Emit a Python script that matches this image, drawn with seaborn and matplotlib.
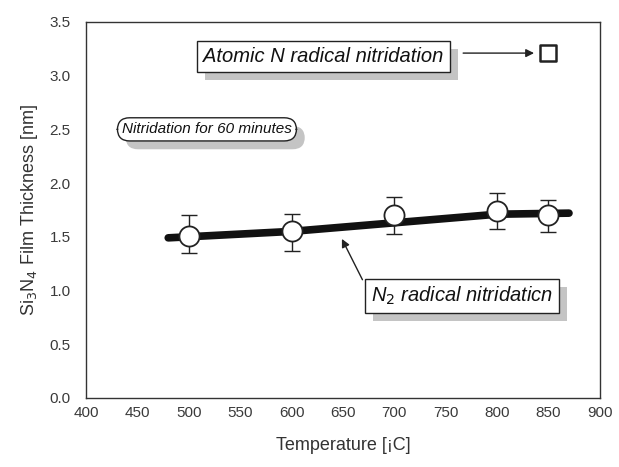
import matplotlib
matplotlib.use("Agg")
import matplotlib.pyplot as plt
import matplotlib.patheffects as pe
import seaborn as sns
import pandas as pd

# Measured Si3N4 thickness for N2 radical nitridation (60 min)
temperature = [500, 600, 700, 800, 850]
thickness = [1.51, 1.55, 1.70, 1.74, 1.70]
err_low = [1.35, 1.37, 1.53, 1.57, 1.54]
err_high = [1.70, 1.71, 1.87, 1.91, 1.84]

# Hand-drawn trend line through the N2 data
trend_temp = [480, 500, 600, 700, 800, 870]
trend_thick = [1.49, 1.50, 1.55, 1.63, 1.71, 1.72]

# Atomic N radical nitridation result
atomic_temp = [850]
atomic_thick = [3.21]

x_ticks = [400, 450, 500, 550, 600, 650, 700, 750, 800, 850, 900]
y_ticks = [0.0, 0.5, 1.0, 1.5, 2.0, 2.5, 3.0, 3.5]

sns.set_theme(style="white")
plt.rcParams["font.family"] = ["Liberation Sans", "DejaVu Sans"]

fig = plt.figure(figsize=(6.19, 4.67), dpi=100)
ax = fig.add_axes([0.139, 0.148, 0.830, 0.805])

df_trend = pd.DataFrame({"T": trend_temp, "t": trend_thick})
sns.lineplot(data=df_trend, x="T", y="t", ax=ax, color="#111111",
             linewidth=5.5, zorder=2, legend=False)

yerr = [[v - lo for v, lo in zip(thickness, err_low)],
        [hi - v for v, hi in zip(thickness, err_high)]]
ax.errorbar(temperature, thickness, yerr=yerr, fmt="none", ecolor="#222222",
            elinewidth=1.0, capsize=6, capthick=1.0, zorder=3)

df_pts = pd.DataFrame({"T": temperature, "t": thickness})
sns.scatterplot(data=df_pts, x="T", y="t", ax=ax, s=210, marker="o",
                facecolor="white", edgecolor="#222222", linewidth=1.3, zorder=4)

df_atomic = pd.DataFrame({"T": atomic_temp, "t": atomic_thick})
sns.scatterplot(data=df_atomic, x="T", y="t", ax=ax, s=120, marker="s",
                facecolor="white", edgecolor="#222222", linewidth=1.8, zorder=4)

ax.set_xlim(400, 900)
ax.set_ylim(0, 3.5)
ax.set_xticks(x_ticks)
ax.set_yticks(y_ticks)
ax.set_xticklabels([str(v) for v in x_ticks])
ax.set_yticklabels([f"{v:.1f}" for v in y_ticks])
ax.tick_params(axis="x", labelsize=11, colors="#3a3a3a", length=0, pad=6)
ax.tick_params(axis="y", labelsize=11, colors="#3a3a3a", length=0, pad=11)
ax.set_xlabel("Temperature [¡C]", fontsize=13, color="#333333", labelpad=12)
ax.set_ylabel("Si$_3$N$_4$ Film Thickness [nm]", fontsize=13, color="#333333", labelpad=7)
for sp in ax.spines.values():
    sp.set_color("#333333")
    sp.set_linewidth(1.0)


def boxed_label(text, xy, boxstyle, fontsize, pad):
    # white framed label with a grey drop shadow under its box
    t = ax.annotate(text, xy=xy, xycoords="data", xytext=(0, 0),
                    textcoords="offset points", ha="left", va="center",
                    fontsize=fontsize, style="italic", color="#111111", zorder=6,
                    bbox=dict(boxstyle=f"{boxstyle},pad={pad}", fc="white",
                              ec="#222222", lw=1.0))
    t.get_bbox_patch().set_path_effects([
        pe.SimplePatchShadow(offset=(6, -6), shadow_rgbFace="#c4c4c4", alpha=1.0),
        pe.Normal(),
    ])
    return t


boxed_label("Atomic N radical nitridation", (514, 3.18), "square", 14.5, 0.3)
boxed_label("Nitridation for 60 minutes", (435, 2.50), "round,rounding_size=0.8", 11, 0.3)
boxed_label("N$_2$ radical nitridaticn", (677, 0.95), "square", 14.5, 0.3)

ax.annotate("", xy=(836, 3.21), xytext=(767, 3.21),
            arrowprops=dict(arrowstyle="-|>", color="#222222", lw=1.0,
                            mutation_scale=12, shrinkA=0, shrinkB=0), zorder=6)
ax.annotate("", xy=(649, 1.48), xytext=(669, 1.10),
            arrowprops=dict(arrowstyle="-|>", color="#222222", lw=1.0,
                            mutation_scale=12, shrinkA=0, shrinkB=0), zorder=6)

fig.savefig("out.png", dpi=100, facecolor="white")
